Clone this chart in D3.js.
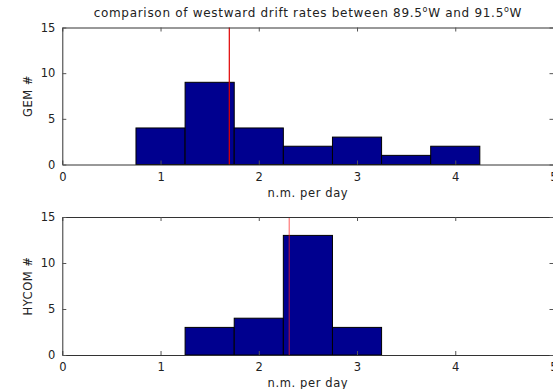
<!DOCTYPE html>
<html>
<head>
<meta charset="utf-8">
<script src="https://cdnjs.cloudflare.com/ajax/libs/d3/7.8.5/d3.min.js"></script>
<style>
  body { margin: 0; background: #fff; }
  svg text { font-family: "DejaVu Sans", sans-serif; fill: #222; }
</style>
</head>
<body>
<div id="chart"></div>
<script>
// bin edges shared by both histograms (bin width 0.5)
const binEdges = [0.75, 1.25, 1.75, 2.25, 2.75, 3.25, 3.75, 4.25]
const gemCounts = [4, 9, 4, 2, 3, 1, 2]
const hycomCounts = [0, 3, 4, 13, 3, 0, 0]
const gemMean = 1.70
const hycomMean = 2.31
const xTicks = [0, 1, 2, 3, 4, 5]
const yTicks = [0, 5, 10, 15]

const W = 553, H = 389
const svg = d3.select("#chart").append("svg")
  .attr("width", W).attr("height", H)

const x = d3.scaleLinear().domain([0, 5]).range([62.3, 553.5])

svg.append("text")
  .attr("x", (62.3 + 553.5) / 2).attr("y", 17)
  .attr("text-anchor", "middle").attr("font-size", "12px")
  .attr("letter-spacing", "0.7px")
  .call(t => {
    t.append("tspan").text("comparison of westward drift rates between 89.5")
    t.append("tspan").attr("dy", -5).attr("font-size", "8px").text("o")
    t.append("tspan").attr("dy", 5).text("W and 91.5")
    t.append("tspan").attr("dy", -5).attr("font-size", "8px").text("o")
    t.append("tspan").attr("dy", 5).text("W")
  })

function panel(top, bottom, counts, mean, ylabel, lineColor, lineOpacity) {
  const y = d3.scaleLinear().domain([0, 15]).range([bottom, top])
  const g = svg.append("g")

  const bins = counts.map((c, i) => ({ x0: binEdges[i], x1: binEdges[i + 1], c }))
    .filter(d => d.c > 0)

  g.selectAll("rect").data(bins).join("rect")
    .attr("x", d => x(d.x0)).attr("width", d => x(d.x1) - x(d.x0))
    .attr("y", d => y(d.c)).attr("height", d => y(0) - y(d.c))
    .attr("fill", "#00008f").attr("stroke", "#000").attr("stroke-width", 1)

  // mean line
  g.append("line")
    .attr("x1", x(mean)).attr("x2", x(mean))
    .attr("y1", y(15)).attr("y2", y(0))
    .attr("stroke", lineColor).attr("stroke-width", 1.2).attr("opacity", lineOpacity)

  // box axes with inward ticks
  const fmt = d3.format("d")
  const axB = d3.axisBottom(x).tickValues(xTicks).tickFormat(fmt).tickSizeInner(-4).tickSizeOuter(0).tickPadding(8)
  const axT = d3.axisTop(x).tickValues(xTicks).tickSizeInner(-4).tickSizeOuter(0).tickFormat("")
  const axL = d3.axisLeft(y).tickValues(yTicks).tickFormat(fmt).tickSizeInner(-4).tickSizeOuter(0).tickPadding(7)
  const axR = d3.axisRight(y).tickValues(yTicks).tickSizeInner(-4).tickSizeOuter(0).tickFormat("")

  const style = sel => {
    sel.select(".domain").attr("stroke", "#333")
    sel.selectAll(".tick line").attr("stroke", "#555")
    sel.selectAll(".tick text").attr("fill", "#222").attr("font-size", "11.5px")
      .attr("font-family", "DejaVu Sans, sans-serif")
  }
  g.append("g").attr("transform", `translate(0,${bottom})`).call(axB).call(style)
  g.append("g").attr("transform", `translate(0,${top})`).call(axT).call(style)
  g.append("g").attr("transform", `translate(${x(0)},0)`).call(axL).call(style)
  g.append("g").attr("transform", `translate(${x(5)},0)`).call(axR).call(style)

  g.append("text")
    .attr("transform", `translate(32,${(top + bottom) / 2}) rotate(-90)`)
    .attr("text-anchor", "middle").attr("font-size", "11.5px")
    .attr("letter-spacing", "0.5px").text(ylabel)

  g.append("text")
    .attr("x", (x(0) + x(5)) / 2).attr("y", bottom + 32)
    .attr("text-anchor", "middle").attr("font-size", "11.5px")
    .attr("letter-spacing", "0.6px").text("n.m. per day")
}

panel(27.5, 164.5, gemCounts, gemMean, "GEM #", "#e00000", 1)
panel(217, 355, hycomCounts, hycomMean, "HYCOM #", "#ff2020", 0.6)
</script>
</body>
</html>
